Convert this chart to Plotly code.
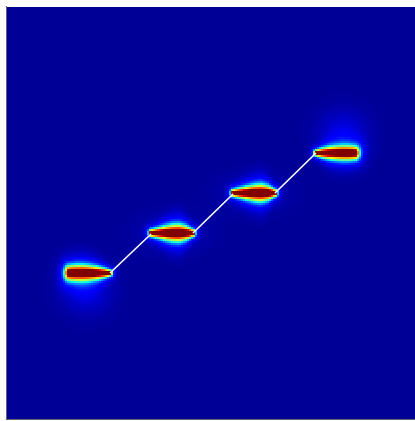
import numpy as np
import plotly.graph_objects as go

# ---- data (plot coordinates: x 0..408, y 0..413) ----
# white crack path: three inclined links between horizontal steps
crack_x = [103, 144, None, 186, 226, None, 268, 309]
crack_y = [146, 185, None, 186, 225, None, 226, 266]

# hot zones lying on the horizontal steps of the crack
zone_x0 = [62, 144, 226, 309]
zone_x1 = [103, 186, 268, 348]
zone_y = [146, 186, 226, 266]
zone_peak = [1.0, 1.0, 1.0, 1.0]
zone_halo = [0.16, 0.16, 0.16, 0.16]
zone_thick = [
    [6.6, 7.1, 7.1, 6.6, 5.7, 4.4, 2.8],
    [3.2, 4.4, 5.9, 7.1, 7.6, 6.0, 3.2],
    [3.2, 4.4, 5.7, 6.9, 7.6, 6.2, 3.2],
    [2.8, 4.3, 5.4, 6.0, 6.4, 6.4, 5.9],
]
zone_end_left = [4.2, 2.3, 2.3, 2.3]
zone_end_right = [2.3, 2.3, 2.3, 4.2]

# faint broad glows around the zones
glow_x = [80, 165, 247, 336]
glow_y = [130, 186, 226, 284]
glow_sx = [24, 32, 32, 24]
glow_sy = [24, 18, 18, 24]
glow_amp = [0.07, 0.04, 0.04, 0.07]

background_level = 0.02

# ---- field ----
gx = np.arange(1, 408, 2.0)
gy = np.arange(1, 413, 2.0)
X, Y = np.meshgrid(gx, gy)
Z = np.full(X.shape, background_level)
for x0, x1, y0, pk, hl, th, el, er in zip(zone_x0, zone_x1, zone_y, zone_peak, zone_halo,
                                          zone_thick, zone_end_left, zone_end_right):
    t = np.clip((X - x0) / (x1 - x0), 0, 1)
    h = np.interp(t, np.linspace(0, 1, len(th)), th)
    dxl = np.clip(x0 - X, 0, None) / el
    dxr = np.clip(X - x1, 0, None) / er
    dy = (Y - y0) / h
    d2 = dxl ** 2 + dxr ** 2 + dy ** 2
    Z += pk * np.exp(-d2) + hl * np.exp(-d2 / 5.0)
for cx, cy, sx, sy, a in zip(glow_x, glow_y, glow_sx, glow_sy, glow_amp):
    Z += a * np.exp(-(((X - cx) / sx) ** 2 + ((Y - cy) / sy) ** 2))


def jet(v):
    r = np.interp(v, [0, 0.35, 0.66, 0.89, 1], [0, 0, 1, 1, 0.5])
    g = np.interp(v, [0, 0.125, 0.375, 0.64, 0.91, 1], [0, 0, 1, 1, 0, 0])
    b = np.interp(v, [0, 0.11, 0.34, 0.65, 1], [0.5, 1, 1, 0, 0])
    return f"rgb({int(round(r*255))},{int(round(g*255))},{int(round(b*255))})"


stops = np.linspace(0, 1, 41)
colorscale = [[float(s), jet(s)] for s in stops]

fig = go.Figure()
fig.add_trace(go.Heatmap(x=gx, y=gy, z=Z, zmin=0, zmax=1, colorscale=colorscale,
                         showscale=False, hoverinfo="skip"))
fig.add_trace(go.Scatter(x=crack_x, y=crack_y, mode="lines",
                         line=dict(color="white", width=1.6), hoverinfo="skip",
                         showlegend=False))

axis_common = dict(showgrid=False, zeroline=False, showticklabels=False, ticks="",
                   showline=True, linecolor="#666666", linewidth=1)
fig.update_layout(
    width=415, height=421,
    margin=dict(l=7, r=0, t=6, b=2),
    paper_bgcolor="white", plot_bgcolor="white",
    xaxis=dict(range=[0, 408], **axis_common),
    yaxis=dict(range=[0, 413], **axis_common),
    showlegend=False,
)
fig.write_html("out.html")
